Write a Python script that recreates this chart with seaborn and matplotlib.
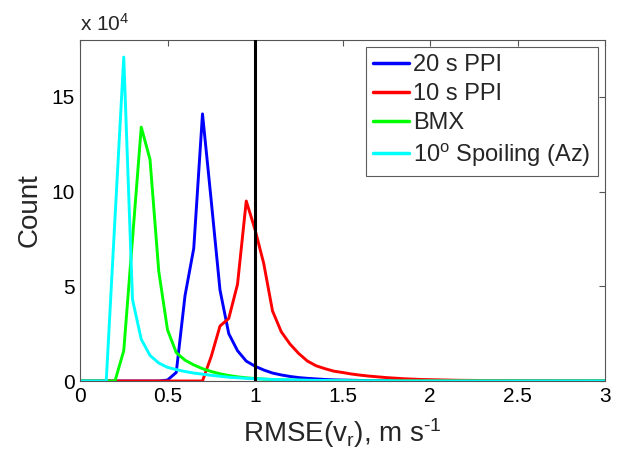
import numpy as np
import pandas as pd
import matplotlib
matplotlib.use("Agg")
import matplotlib.pyplot as plt
import seaborn as sns

# RMSE bin centres (m/s)
rmse_bins = np.round(np.arange(0, 3.0001, 0.05), 2)

# Counts in units of 1e4, one value per bin
ppi20 = [0, 0, 0, 0, 0, 0, 0, 0, 0, 0,
         0.05, 0.45, 4.5, 7.0, 14.1, 9.5, 4.8, 2.5, 1.6, 1.05,
         0.78, 0.58, 0.42, 0.32, 0.24, 0.18, 0.14, 0.11, 0.08, 0.06,
         0.05, 0.04, 0.03, 0.02, 0.02, 0.015, 0.01, 0.01, 0.01, 0.0,
         0, 0, 0, 0, 0, 0, 0, 0, 0, 0,
         0, 0, 0, 0, 0, 0, 0, 0, 0, 0, 0]
ppi10 = [0, 0, 0, 0, 0, 0, 0, 0, 0, 0,
         0, 0, 0, 0, 0, 1.3, 2.9, 3.3, 5.1, 9.5,
         8.0, 6.2, 3.7, 2.6, 1.95, 1.45, 1.05, 0.8, 0.65, 0.52,
         0.45, 0.37, 0.31, 0.26, 0.22, 0.18, 0.15, 0.12, 0.1, 0.08,
         0.07, 0.06, 0.05, 0.04, 0.035, 0.03, 0.025, 0.02, 0.02, 0.015,
         0.015, 0.01, 0.01, 0.01, 0.01, 0.005, 0.005, 0.005, 0, 0, 0]
bmx = [0, 0, 0, 0, 0, 1.6, 7.5, 13.4, 11.7, 5.8,
       2.7, 1.5, 1.1, 0.85, 0.65, 0.5, 0.38, 0.29, 0.22, 0.17,
       0.13, 0.1, 0.08, 0.06, 0.05, 0.04, 0.03, 0.02, 0.02, 0.01,
       0.01, 0.01, 0, 0, 0, 0, 0, 0, 0, 0,
       0, 0, 0, 0, 0, 0, 0, 0, 0, 0,
       0, 0, 0, 0, 0, 0, 0, 0, 0, 0, 0]
spoil = [0, 0, 0, 0, 8.6, 17.1, 4.3, 2.2, 1.35, 0.95,
         0.72, 0.6, 0.5, 0.42, 0.36, 0.3, 0.25, 0.2, 0.17, 0.14,
         0.12, 0.1, 0.08, 0.07, 0.06, 0.05, 0.04, 0.03, 0.03, 0.02,
         0.02, 0.01, 0.01, 0.01, 0.01, 0.01, 0, 0, 0, 0,
         0, 0, 0, 0, 0, 0, 0, 0, 0, 0,
         0, 0, 0, 0, 0, 0, 0, 0, 0, 0, 0]

series_names = ["20 s PPI", "10 s PPI", "BMX", "10$^{\\mathrm{o}}$ Spoiling (Az)"]
series_colors = ["#0000ff", "#ff0000", "#00ff00", "#00ffff"]
threshold = 1.0

x_ticks = [0, 0.5, 1, 1.5, 2, 2.5, 3]
x_tick_labels = ["0", "0.5", "1", "1.5", "2", "2.5", "3"]
y_ticks = [0, 5, 10, 15]
y_tick_labels = ["0", "5", "10", "15"]

df = pd.concat([
    pd.DataFrame({"rmse": rmse_bins, "count": vals, "method": name})
    for name, vals in zip(series_names, [ppi20, ppi10, bmx, spoil])
], ignore_index=True)

sns.set_style("white")
plt.rcParams["font.family"] = ["Liberation Sans", "DejaVu Sans"]
plt.rcParams["mathtext.fontset"] = "custom"
plt.rcParams["mathtext.rm"] = "Liberation Sans"
plt.rcParams["mathtext.it"] = "Liberation Sans"

fig = plt.figure(figsize=(6.18, 4.65), dpi=100)
ax = fig.add_axes([80/618, 1-381/465, 525/618, 341/465])

sns.lineplot(data=df, x="rmse", y="count", hue="method",
             hue_order=series_names, palette=series_colors,
             linewidth=2.1, ax=ax, estimator=None, sort=True)
ax.axvline(threshold, color="black", linewidth=2.2, zorder=5)

ax.set_xlim(0, 3)
ax.set_ylim(0, 18)
ax.set_xticks(x_ticks)
ax.set_xticklabels(x_tick_labels)
ax.set_yticks(y_ticks)
ax.set_yticklabels(y_tick_labels)
ax.tick_params(direction="in", length=4, width=0.8, top=True, right=True,
               labelsize=15, colors="#555555", labelcolor="black", pad=4)
for s in ax.spines.values():
    s.set_color("#555555")
    s.set_linewidth(0.8)

ax.set_xlabel("RMSE(v$_{\\mathrm{r}}$), m s$^{\\text{-1}}$", fontsize=20, labelpad=8)
ax.set_ylabel("Count", fontsize=20, labelpad=6)
ax.text(0.0, 1.015, "x 10$^{\\mathrm{4}}$", transform=ax.transAxes, fontsize=15,
        ha="left", va="bottom")

leg = ax.legend(loc="upper right", fontsize=17, frameon=True, fancybox=False,
                handlelength=1.5, handletextpad=0.2, borderpad=0.3,
                labelspacing=0.3, borderaxespad=0.3)
leg.get_frame().set_edgecolor("#333333")
leg.get_frame().set_linewidth(0.8)
for h in leg.get_lines():
    h.set_linewidth(2.5)

fig.savefig("out.png", dpi=100)
